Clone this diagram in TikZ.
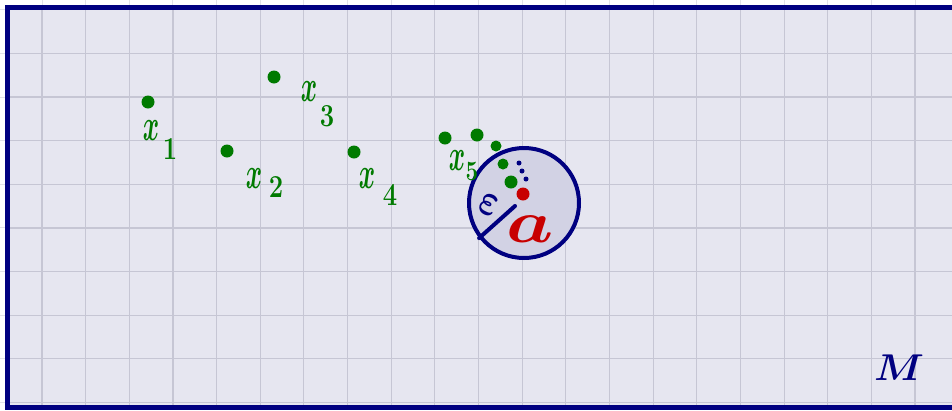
\documentclass[tikz,border=0pt]{standalone}
\usepackage{amsmath}
\usepackage{fontspec}
\definecolor{navy}{RGB}{0,0,128}
\definecolor{gr}{RGB}{0,122,0}
\definecolor{rd}{RGB}{200,0,0}
\definecolor{lav}{RGB}{230,230,240}
\definecolor{cfill}{RGB}{210,210,228}
\definecolor{gridin}{RGB}{198,198,212}
\definecolor{gridout}{RGB}{226,226,232}
\tikzset{
  gdot/.style={circle,fill=gr,inner sep=0pt,minimum size=13pt},
  gdots/.style={circle,fill=gr,inner sep=0pt,minimum size=11pt},
  bdot/.style={circle,fill=navy,inner sep=0pt,minimum size=5pt},
  rdot/.style={circle,fill=rd,inner sep=0pt,minimum size=13pt},
  glab/.style={text=gr,inner sep=0pt,font=\Huge,xscale=1.0,yscale=1.8},
  gsub/.style={text=gr,inner sep=0pt,font=\fontsize{32}{32}\selectfont\bfseries,xscale=0.8},
}
\begin{document}
\begin{tikzpicture}[x=1pt,y=-1pt]
\useasboundingbox (0,0) rectangle (952,410);
\fill[white] (0,0) rectangle (952,410);
\foreach \i in {0,...,22} \draw[gridout,line width=1pt] ({-1.65+43.65*\i},0) -- ++(0,410);
\foreach \j in {0,...,9} \draw[gridout,line width=1pt] (0,{9.7+43.65*\j}) -- ++(952,0);
\fill[lav] (7.5,7.5) rectangle (960,407);
\begin{scope}
\clip (7.5,7.5) rectangle (960,407);
\foreach \i in {0,...,22} \draw[gridin,line width=1.1pt] ({-1.65+43.65*\i},0) -- ++(0,410);
\foreach \j in {0,...,9} \draw[gridin,line width=1.1pt] (0,{9.7+43.65*\j}) -- ++(952,0);
\end{scope}
\draw[navy,line width=5pt] (962,7.5) -- (7.5,7.5) -- (7.5,407) -- (962,407);

% ball
\node[circle,draw=navy,line width=4pt,fill=cfill,minimum size=110pt,inner sep=0pt] (ball) at (524,203) {};

% green points
\node[gdot] (p1) at (148,102) {};
\node[gdot] (p2) at (227,151) {};
\node[gdot] (p3) at (274,77) {};
\node[gdot] (p4) at (354,152) {};
\node[gdot] (p5) at (445,138) {};
\node[gdot] (p6) at (477,135) {};
\node[gdots] (p7) at (496,146) {};
\node[gdots] (p8) at (503,164) {};
\node[gdot] (p9) at (511,182) {};

% blue points
\node[bdot] (b1) at (519,163) {};
\node[bdot] (b2) at (522,171) {};
\node[bdot] (b3) at (526,179) {};

% centre
\node[rdot] (a) at (523,194) {};

% labels
\node[glab] (l1) at (151,131) {$\boldsymbol{x}$};
\node[gsub] (s1) at (170,149) {1};
\node[glab] (l2) at (254,179) {$\boldsymbol{x}$};
\node[gsub] (s2) at (276,187) {2};
\node[glab] (l3) at (309,92) {$\boldsymbol{x}$};
\node[gsub] (s3) at (327,116) {3};
\node[glab] (l4) at (367,179) {$\boldsymbol{x}$};
\node[gsub] (s4) at (390,195) {4};
\node[glab] (l5) at (457,161) {$\boldsymbol{x}$};
\node[gsub,font=\fontsize{28}{28}\selectfont\bfseries] (s5) at (472,171) {5};

% radius
\coordinate (rend) at (515,206);
\draw[navy,line width=4pt,line cap=round] (ball.218) -- (rend);
\node[text=navy,inner sep=0pt,font=\Huge,xscale=1.4,yscale=1.9,rotate=-20] (eps) at (489,205) {$\boldsymbol{\varepsilon}$};
\node[text=rd,inner sep=0pt,font=\Huge,xscale=3,yscale=2.4] (alab) at (530,229) {$\boldsymbol{a}$};

\node[text=navy,inner sep=0pt,font=\Huge,xscale=1.6,yscale=1.5] (M) at (899,368) {$\boldsymbol{M}$};
\end{tikzpicture}
\end{document}
